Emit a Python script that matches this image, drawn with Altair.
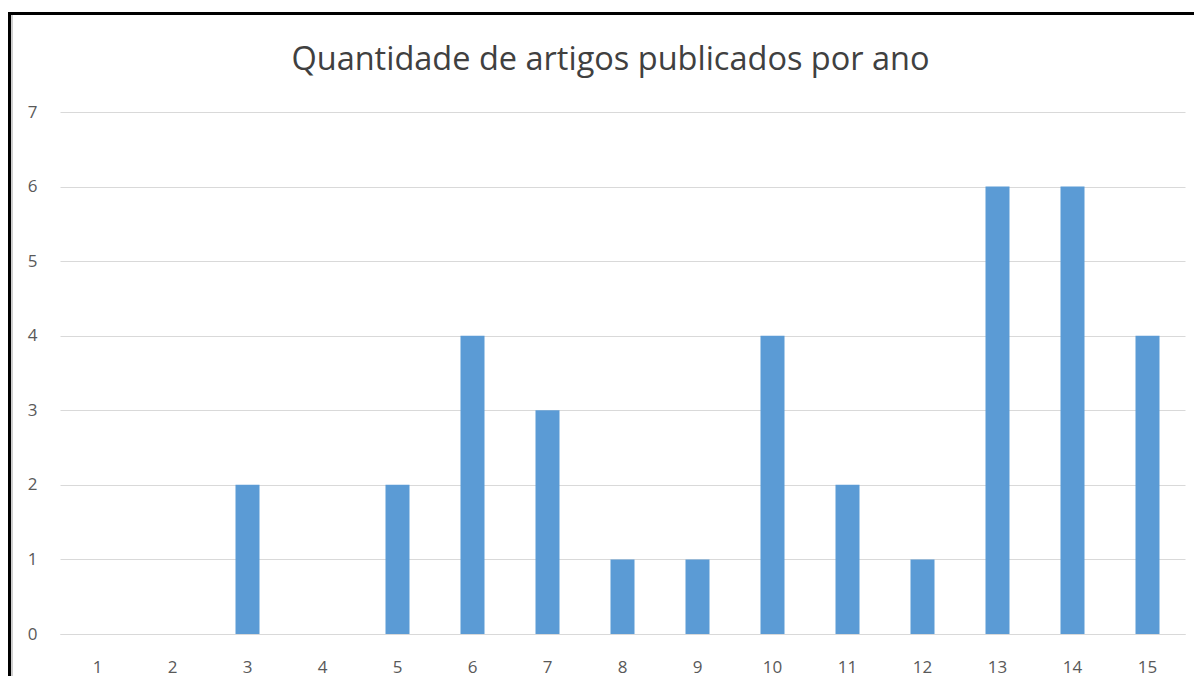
import altair as alt
import pandas as pd

anos = [str(i) for i in range(1, 16)]
artigos = [0, 0, 2, 0, 2, 4, 3, 1, 1, 4, 2, 1, 6, 6, 4]
titulo = "Quantidade de artigos publicados por ano"

df = pd.DataFrame({"ano": anos, "artigos": artigos})

FONT = "Open Sans"

bars = alt.Chart(df).mark_bar(color="#5B9BD5").encode(
    x=alt.X(
        "ano:N",
        sort=anos,
        title=None,
        scale=alt.Scale(paddingInner=0.68, paddingOuter=0.34),
        axis=alt.Axis(
            labelAngle=0,
            labelFont=FONT,
            labelFontSize=17,
            labelColor="#595959",
            labelPadding=25,
            ticks=False,
            domain=True,
            domainColor="#d9d9d9",
            grid=False,
        ),
    ),
    y=alt.Y(
        "artigos:Q",
        title=None,
        scale=alt.Scale(domain=[0, 7], nice=False),
        axis=alt.Axis(
            values=list(range(0, 8)),
            labelFont=FONT,
            labelFontSize=17,
            labelColor="#595959",
            labelPadding=23,
            ticks=False,
            domain=False,
            grid=True,
            gridColor="#d9d9d9",
            gridWidth=1,
        ),
    ),
)

frame_df = pd.DataFrame({"k": [0]})
# outer frame of the figure: only the top and left edges are visible
frame_left = alt.Chart(frame_df).mark_rule(
    color="black", strokeWidth=3, clip=False
).encode(x=alt.value(-50.5), y=alt.value(-100), y2=alt.value(700))
frame_top = alt.Chart(frame_df).mark_rule(
    color="black", strokeWidth=3, clip=False
).encode(x=alt.value(-52), x2=alt.value(1300), y=alt.value(-98.5))
shadow_left = alt.Chart(frame_df).mark_rule(
    color="#cfcfcf", strokeWidth=2, clip=False
).encode(x=alt.value(-48), y=alt.value(-97), y2=alt.value(700))

chart = (
    alt.layer(bars, shadow_left, frame_left, frame_top)
    .properties(
        width=1125,
        height=522,
        autosize=alt.AutoSizeParams(type="none"),
        padding={"left": 52, "top": 104, "right": 9, "bottom": 42},
        view=alt.ViewBackground(stroke="transparent", strokeWidth=0),
        title=alt.TitleParams(
            text=titulo,
            font=FONT,
            fontSize=32.5,
            fontWeight="normal",
            color="#404040",
            anchor="middle",
            offset=-66,
            dx=-12,
        ),
    )
    .configure_view(stroke="transparent", strokeWidth=0)
    .configure(background="white")
)

chart.save("out.html", embed_options={"renderer": "svg", "actions": False})
